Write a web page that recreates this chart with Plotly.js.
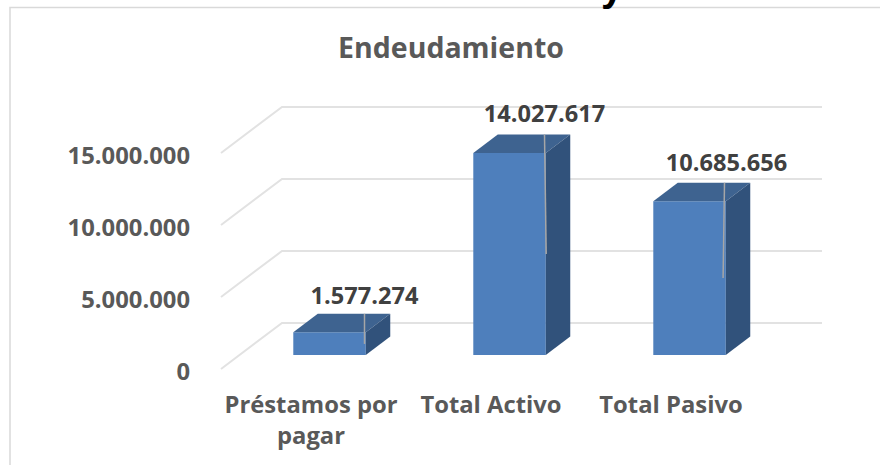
<!DOCTYPE html>
<html>
<head>
<meta charset="utf-8">
<script src="https://cdn.plot.ly/plotly-3.0.1.min.js"></script>
<style>html,body{margin:0;padding:0;background:#fff;overflow:hidden}</style>
</head>
<body>
<div id="chart" style="width:880px;height:465px"></div>
<script>
const categories = ["Préstamos por<br>pagar", "Total Activo", "Total Pasivo"];
const values = [1577274, 14027617, 10685656];
const valueLabels = ["1.577.274", "14.027.617", "10.685.656"];
const leaderEnds = [1740000, 7990000, 6320000];
const tickVals = [0, 5000000, 10000000, 15000000];
const tickLabels = ["0", "5.000.000", "10.000.000", "15.000.000"];

const W = 880, H = 465;
const M = {l: 191, r: 20, t: 20, b: 80};
const pxX = 180, pxY = 14.4 / 1e6;            // px per category / per unit value
const depthX = 61 / pxX, depthY = 46 / pxY;   // oblique projection of the full floor depth
const dFront = 0.304, dBack = 0.705, barW = 72.5 / pxX;
const xMin = -(311 - M.l) / pxX, xMax = xMin + (W - M.l - M.r) / pxX;
const yMin = -(H - M.b - 369) / pxY, yMax = yMin + (H - M.t - M.b) / pxY;
const X = (i, d) => i + d * depthX, Y = (v, d) => v + d * depthY;
const idx = categories.map((_, i) => i);

const px2paperX = p => (p - M.l) / (W - M.l - M.r);
const px2paperY = p => 1 - (p - M.t) / (H - M.t - M.b);

function poly(pts, color, name) {
  return {type: 'scatter', mode: 'lines', name, x: pts.map(p => p[0]), y: pts.map(p => p[1]),
    fill: 'toself', fillcolor: color, line: {width: 0, color}, hoverinfo: 'skip', showlegend: false, cliponaxis: false};
}

const traces = [{
  type: 'bar', name: 'Endeudamiento',
  x: idx.map(i => X(i, dFront)), y: values, base: idx.map(() => dFront * depthY),
  width: barW, marker: {color: '#4e7fbc', line: {width: 0}}, showlegend: false
}];
idx.forEach(i => {
  const v = values[i], l = X(i, dFront) - barW / 2, r = l + barW, sh = (dBack - dFront);
  const b0 = dFront * depthY, t0 = b0 + v;
  traces.push(poly([[l, t0], [r, t0], [r + sh * depthX, t0 + sh * depthY], [l + sh * depthX, t0 + sh * depthY], [l, t0]], '#3e6390', 'top'));
  traces.push(poly([[r, b0], [r + sh * depthX, b0 + sh * depthY], [r + sh * depthX, t0 + sh * depthY], [r, t0], [r, b0]], '#31527b', 'side'));
});
const leaderOff = 53.5 / pxX, lean = [0, 1.7 / pxX, -1.4 / pxX];
idx.forEach(i => {
  traces.push({type: 'scatter', mode: 'lines', name: 'leader', showlegend: false, hoverinfo: 'skip',
    x: [i + leaderOff, i + leaderOff + lean[i]], y: [values[i] + Y(0, dBack), leaderEnds[i]],
    line: {color: '#a6a6a6', width: 1.5}});
});
const labelGap = [16, 18, 18], labelShift = [0, 0, 2];
traces.push({type: 'scatter', mode: 'text', name: 'labels', showlegend: false, cliponaxis: false, hoverinfo: 'skip',
  x: idx.map(i => i + leaderOff + labelShift[i] / pxX), y: values.map((v, i) => Y(v, dBack) + labelGap[i] / pxY),
  text: valueLabels, textposition: 'middle center',
  textfont: {family: '"Open Sans", sans-serif', size: 23.6, color: '#404040', weight: 700}});

const gridShapes = tickVals.map(v => ({
  type: 'path', xref: 'x', yref: 'y', layer: 'below',
  path: `M ${X(-0.5, 0)},${Y(v, 0)} L ${X(-0.5, 1)},${Y(v, 1)} L ${X(2.5, 1)},${Y(v, 1)}`,
  line: {color: '#e2e2e2', width: 2}
}));
const frame = {type: 'path', xref: 'paper', yref: 'paper', layer: 'below',
  path: `M ${px2paperX(10)},${px2paperY(465)} L ${px2paperX(10)},${px2paperY(7.5)} L ${px2paperX(880)},${px2paperY(7.5)}`,
  line: {color: '#d9d9d9', width: 1.5}};

const tickFont = {family: '"Open Sans", sans-serif', size: 23.8, color: '#595959', weight: 700};
const layout = {
  width: W, height: H, margin: M, paper_bgcolor: '#fff', plot_bgcolor: 'rgba(0,0,0,0)',
  showlegend: false, barmode: 'overlay',
  title: {text: 'Endeudamiento', x: 451 / W, xanchor: 'center', y: 1 - 48 / H, yanchor: 'middle',
    font: {family: '"Open Sans", sans-serif', size: 28.5, color: '#595959', weight: 700}},
  xaxis: {range: [xMin, xMax], tickvals: idx, ticktext: categories, tickfont: tickFont, ticks: '',
    showgrid: false, zeroline: false, showline: false, automargin: false, ticklabelstandoff: 3},
  yaxis: {range: [yMin, yMax], tickvals: tickVals, ticktext: tickLabels, tickfont: tickFont, ticks: '',
    showgrid: false, zeroline: false, showline: false, automargin: false, ticklabelshift: 3},
  shapes: [frame].concat(gridShapes),
  annotations: [{xref: 'paper', yref: 'paper', x: px2paperX(612), y: px2paperY(-37), yanchor: 'top', xanchor: 'center',
    text: 'y', showarrow: false, font: {family: '"Liberation Sans", sans-serif', size: 40, color: '#000', weight: 700}}]
};
Plotly.newPlot('chart', traces, layout, {displayModeBar: false, responsive: false});
</script>
</body>
</html>
